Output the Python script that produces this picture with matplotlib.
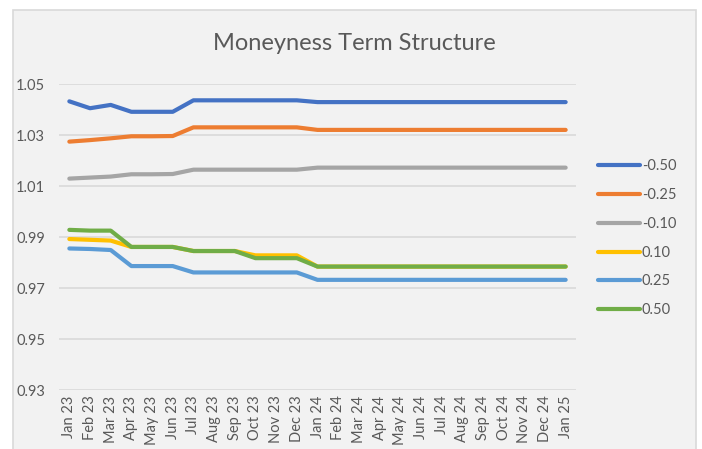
import matplotlib
matplotlib.use("Agg")
import matplotlib.pyplot as plt
from matplotlib.patches import Rectangle

plt.rcParams['font.family'] = ['Lato', 'DejaVu Sans']

months = ["Jan 23", "Feb 23", "Mar 23", "Apr 23", "May 23", "Jun 23", "Jul 23",
          "Aug 23", "Sep 23", "Oct 23", "Nov 23", "Dec 23", "Jan 24", "Feb 24",
          "Mar 24", "Apr 24", "May 24", "Jun 24", "Jul 24", "Aug 24", "Sep 24",
          "Oct 24", "Nov 24", "Dec 24", "Jan 25"]

# moneyness series, values
m_neg50 = [1.0432, 1.0405, 1.0418, 1.0391, 1.0391, 1.0391, 1.0436, 1.0436, 1.0436,
           1.0436, 1.0436, 1.0436, 1.0429] + [1.0429] * 12
m_neg25 = [1.0274, 1.0280, 1.0287, 1.0295, 1.0295, 1.0296, 1.0330, 1.0330, 1.0330,
           1.0330, 1.0330, 1.0330, 1.0320] + [1.0320] * 12
m_neg10 = [1.0129, 1.0133, 1.0137, 1.0146, 1.0146, 1.0147, 1.0164, 1.0164, 1.0164,
           1.0164, 1.0164, 1.0164, 1.0172] + [1.0172] * 12
m_pos10 = [0.9892, 0.9889, 0.9886, 0.9861, 0.9861, 0.9861, 0.9845, 0.9845, 0.9845,
           0.9828, 0.9828, 0.9828, 0.9784] + [0.9784] * 12
m_pos25 = [0.9855, 0.9853, 0.9849, 0.9786, 0.9786, 0.9786, 0.9761, 0.9761, 0.9761,
           0.9761, 0.9761, 0.9761, 0.9732] + [0.9732] * 12
m_pos50 = [0.9928, 0.9925, 0.9925, 0.9861, 0.9861, 0.9861, 0.9845, 0.9845, 0.9845,
           0.9817, 0.9817, 0.9817, 0.9784] + [0.9784] * 12

series = [("-0.50", m_neg50, "#4472C4"),
          ("-0.25", m_neg25, "#ED7D31"),
          ("-0.10", m_neg10, "#A5A5A5"),
          ("0.10", m_pos10, "#FFC000"),
          ("0.25", m_pos25, "#5B9BD5"),
          ("0.50", m_pos50, "#70AD47")]

txt = "#595959"
fig = plt.figure(figsize=(7.02, 4.49), dpi=100)
fig.patch.set_facecolor("white")
# chart area box (bottom runs past the edge of the image)
bg = Rectangle((13 / 702, -0.05), (696 - 13) / 702, 1.05 - 10 / 449,
               transform=fig.transFigure, facecolor="#F2F2F2",
               edgecolor="#D9D9D9", lw=1.2, zorder=-10)
fig.add_artist(bg)

ax = fig.add_axes([59 / 702, 1 - 390 / 449, (576 - 59) / 702, (390 - 84) / 449])
ax.set_facecolor("none")
ax.set_zorder(5)

x = list(range(len(months)))
for name, vals, col in series:
    ax.plot(x, vals, color=col, lw=3.0, label=name, solid_capstyle="round")

ax.set_xlim(-0.5, len(months) - 0.5)
ax.set_ylim(0.93, 1.05)
ax.set_yticks([0.93, 0.95, 0.97, 0.99, 1.01, 1.03, 1.05])
ax.set_yticklabels(["0.93", "0.95", "0.97", "0.99", "1.01", "1.03", "1.05"])
ax.set_xticks(x)
ax.set_xticklabels(months, rotation=90)
ax.grid(axis="y", color="#D9D9D9", lw=1.2)
ax.set_axisbelow(True)
for s in ax.spines.values():
    s.set_visible(False)
ax.tick_params(axis="both", length=0, colors=txt, labelsize=10.5)
ax.tick_params(axis="y", pad=10)
ax.tick_params(axis="x", pad=4)

fig.text(354.5 / 702, 1 - 43 / 449, "Moneyness Term Structure", ha="center",
         va="center", fontsize=17, color=txt)

leg = ax.legend(loc="upper left", bbox_to_anchor=(598 / 702, 1 - 159 / 449),
                bbox_transform=fig.transFigure, frameon=False, fontsize=10.5,
                handlelength=2.9, handletextpad=0.1, labelspacing=1.02,
                borderaxespad=0, borderpad=0)
for t in leg.get_texts():
    t.set_color(txt)

fig.savefig("out.png", dpi=100, facecolor="white")
